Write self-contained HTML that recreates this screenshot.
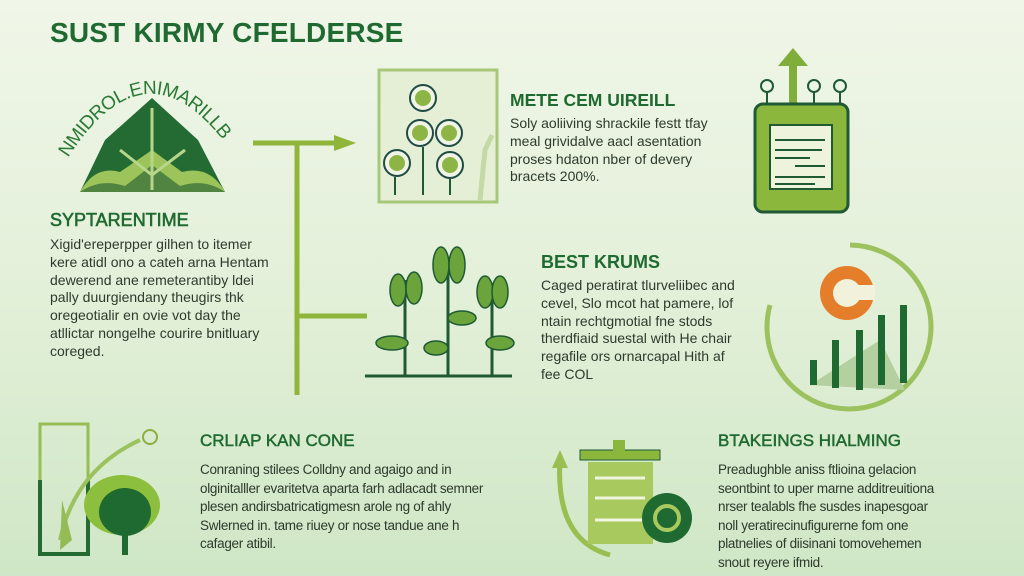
<!DOCTYPE html>
<html><head><meta charset="utf-8"><style>
*{margin:0;padding:0}
body{width:1024px;height:576px;overflow:hidden;position:relative;background:linear-gradient(180deg,#f0f6e8 0%,#e3f0d9 50%,#cfe7c6 100%);font-family:"Liberation Sans",sans-serif;color:#2c3a2a}
h1{position:absolute;left:50px;top:17px;font-size:28px;font-weight:bold;color:#1f6a30;letter-spacing:0.2px}
.h{position:absolute;font-weight:bold;color:#1f6a30;white-space:nowrap}
.p{position:absolute;font-size:13.5px;line-height:17.8px;color:#2e3a2c;white-space:nowrap}
svg{position:absolute;left:0;top:0}
</style></head><body>
<svg width="1024" height="576">
<path id="arc" d="M68,158 Q150,30 236,158" fill="none"/>
<text font-family="Liberation Sans" font-size="19" fill="#2a7a36" letter-spacing="-0.5"><textPath href="#arc">NMIDROL.ENIMARILLB</textPath></text>
<polygon points="152,98 105,140 80,192 225,192 198,140" fill="#236b33"/>
<path d="M80,192 Q95,165 120,172 L152,150 L182,172 Q210,165 225,192Z" fill="#9cc45a"/>
<path d="M80,192 Q100,178 125,186 L152,165 L180,186 Q205,178 225,192Z" fill="#1f5a30" opacity="0.6"/>
<path d="M152,108 L152,190 M120,150 L152,175 L185,150" stroke="#b8d68a" stroke-width="3" fill="none"/>
<g stroke="#8fb53a" stroke-width="5" fill="none">
<line x1="253" y1="143" x2="340" y2="143"/><line x1="297" y1="143" x2="297" y2="395"/><line x1="297" y1="316" x2="367" y2="316"/></g>
<polygon points="334,135 356,143 334,151" fill="#8fb53a"/>
<rect x="379" y="70" width="118" height="132" fill="#e4efd6" stroke="#a7c77a" stroke-width="3"/>
<g fill="#f0f4e4" stroke="#1f4a45" stroke-width="2">
<circle cx="423" cy="98" r="13"/><circle cx="420" cy="133" r="13"/><circle cx="449" cy="133" r="13"/><circle cx="397" cy="163" r="13"/><circle cx="450" cy="165" r="13"/></g>
<g fill="#8db545"><circle cx="423" cy="98" r="8"/><circle cx="420" cy="133" r="8"/><circle cx="449" cy="133" r="8"/><circle cx="397" cy="163" r="8"/><circle cx="450" cy="165" r="8"/></g>
<g stroke="#1f5a35" stroke-width="2"><line x1="395" y1="177" x2="395" y2="195"/><line x1="423" y1="147" x2="423" y2="195"/><line x1="450" y1="179" x2="450" y2="195"/></g>
<path d="M480,200 L485,150 L492,135" stroke="#c4d9a6" stroke-width="5" fill="none"/>
<line x1="793" y1="62" x2="793" y2="108" stroke="#7fae3a" stroke-width="8"/>
<polygon points="778,66 793,48 808,66" fill="#7fae3a"/>
<g fill="none" stroke="#1f5a35" stroke-width="2"><circle cx="767" cy="86" r="6"/><circle cx="814" cy="86" r="6"/><circle cx="840" cy="86" r="6"/><line x1="767" y1="92" x2="767" y2="104"/><line x1="814" y1="92" x2="814" y2="104"/><line x1="840" y1="92" x2="840" y2="104"/></g>
<rect x="755" y="104" width="93" height="108" rx="8" fill="#8cb73d" stroke="#1f5a35" stroke-width="3"/>
<rect x="770" y="125" width="62" height="64" fill="#eef3dc" stroke="#1f5a35" stroke-width="2"/>
<g stroke="#1f5a35" stroke-width="2"><line x1="775" y1="140" x2="825" y2="140"/><line x1="775" y1="150" x2="822" y2="150"/><line x1="775" y1="158" x2="810" y2="158"/><line x1="795" y1="166" x2="825" y2="166"/><line x1="775" y1="177" x2="825" y2="177"/><line x1="775" y1="184" x2="815" y2="184"/></g>
<line x1="365" y1="376" x2="512" y2="376" stroke="#1f5a35" stroke-width="3"/>
<g stroke="#1f5a35" stroke-width="3" fill="none"><path d="M405,376 L405,280"/><path d="M448,376 L448,265"/><path d="M492,376 L492,285"/></g>
<g fill="#6aa43a" stroke="#1f5a35" stroke-width="1.5">
<ellipse cx="398" cy="290" rx="8" ry="16"/><ellipse cx="414" cy="288" rx="8" ry="16"/>
<ellipse cx="441" cy="265" rx="8" ry="18"/><ellipse cx="457" cy="265" rx="8" ry="18"/>
<ellipse cx="485" cy="292" rx="8" ry="16"/><ellipse cx="500" cy="292" rx="8" ry="16"/>
<ellipse cx="392" cy="343" rx="16" ry="7"/><ellipse cx="436" cy="348" rx="12" ry="7"/><ellipse cx="462" cy="318" rx="14" ry="7"/><ellipse cx="500" cy="343" rx="14" ry="7"/></g>
<path d="M850,245 A82,82 0 1 1 770,305" fill="none" stroke="#9cc25f" stroke-width="5"/>
<circle cx="847" cy="293" r="27" fill="#e57e2a"/><circle cx="847" cy="293" r="14" fill="#f2f1dc"/><rect x="850" y="285" width="25" height="15" fill="#f2f1dc"/>
<path d="M810,385 L880,340 L905,390Z" fill="#b4cfa0"/>
<g fill="#1f6a30"><rect x="810" y="360" width="7" height="25"/><rect x="832" y="340" width="7" height="48"/><rect x="856" y="330" width="7" height="60"/><rect x="878" y="315" width="7" height="70"/><rect x="900" y="305" width="7" height="78"/></g>
<rect x="40" y="424" width="48" height="130" fill="none" stroke="#98bd55" stroke-width="3"/>
<path d="M40,480 L40,554 L88,554 L88,480" fill="none" stroke="#236b33" stroke-width="4"/>
<path d="M60,540 Q75,470 140,440" stroke="#9cc25f" stroke-width="4" fill="none"/>
<circle cx="150" cy="437" r="7" fill="none" stroke="#8cae40" stroke-width="2"/>
<ellipse cx="122" cy="505" rx="38" ry="30" fill="#8dbf3e"/><ellipse cx="125" cy="512" rx="26" ry="24" fill="#1f6a30"/><rect x="122" y="525" width="6" height="30" fill="#1f6a30"/>
<path d="M60,550 L62,500 L72,540" fill="#94bb56"/>
<path d="M610,555 Q555,540 560,460" stroke="#98bf50" stroke-width="5" fill="none"/><polygon points="552,468 560,450 568,468" fill="#98bf50"/>
<rect x="580" y="450" width="80" height="10" fill="#8cb73d" stroke="#1f5a35"/><rect x="613" y="440" width="12" height="18" fill="#8cb73d"/>
<rect x="588" y="462" width="65" height="82" fill="#a8c95e"/>
<g stroke="#f0f5e0" stroke-width="3"><line x1="595" y1="478" x2="645" y2="478"/><line x1="595" y1="498" x2="645" y2="498"/><line x1="595" y1="520" x2="645" y2="520"/></g>
<circle cx="667" cy="518" r="25" fill="#1f6a30"/><circle cx="667" cy="518" r="12" fill="none" stroke="#a8c95e" stroke-width="4"/>
</svg>
<h1>SUST KIRMY CFELDERSE</h1>
<div class="h" style="left:50px;top:210px;font-size:18px;font-weight:normal;-webkit-text-stroke:0.6px #1f6a30">SYPTARENTIME</div>
<div class="p" style="left:50px;top:236px;font-size:14px">Xigid'ereperpper gilhen to itemer<br>kere atidl ono a cateh arna Hentam<br>dewerend ane remeterantiby ldei<br>pally duurgiendany theugirs thk<br>oregeotialir en ovie vot day the<br>atllictar nongelhe courire bnitluary<br>coreged.</div>
<div class="h" style="left:510px;top:90px;font-size:17.5px">METE CEM UIREILL</div>
<div class="p" style="left:510px;top:115px;font-size:14px">Soly aoliiving shrackile festt tfay<br>meal grividalve aacl asentation<br>proses hdaton nber of devery<br>bracets 200%.</div>
<div class="h" style="left:541px;top:252px;font-size:18px">BEST KRUMS</div>
<div class="p" style="left:541px;top:277px;font-size:14px">Caged peratirat tlurveliibec and<br>cevel, Slo mcot hat pamere, lof<br>ntain rechtgmotial fne stods<br>therdfiaid suestal with He chair<br>regafile ors ornarcapal Hith af<br>fee COL</div>
<div class="h" style="left:200px;top:431px;font-size:17px;font-weight:normal;-webkit-text-stroke:0.5px #1f6a30">CRLIAP KAN CONE</div>
<div class="p" style="left:200px;top:461px;font-size:13.5px;line-height:18.5px;letter-spacing:-0.3px">Conraning stilees Colldny and agaigo and in<br>olginitalller evaritetva aparta farh adlacadt semner<br>plesen andirsbatricatigmesn arole ng of ahly<br>Swlerned in. tame riuey or nose tandue ane h<br>cafager atibil.</div>
<div class="h" style="left:718px;top:431px;font-size:17px;font-weight:normal;-webkit-text-stroke:0.5px #1f6a30">BTAKEINGS HIALMING</div>
<div class="p" style="left:718px;top:461px;font-size:13.5px;line-height:18.5px;letter-spacing:-0.3px">Preadughble aniss ftlioina gelacion<br>seontbint to uper marne additreuitiona<br>nrser tealabls fhe susdes inapesgoar<br>noll yeratirecinufigurerne fom one<br>platnelies of diisinani tomovehemen<br>snout reyere ifmid.</div>
</body></html>
